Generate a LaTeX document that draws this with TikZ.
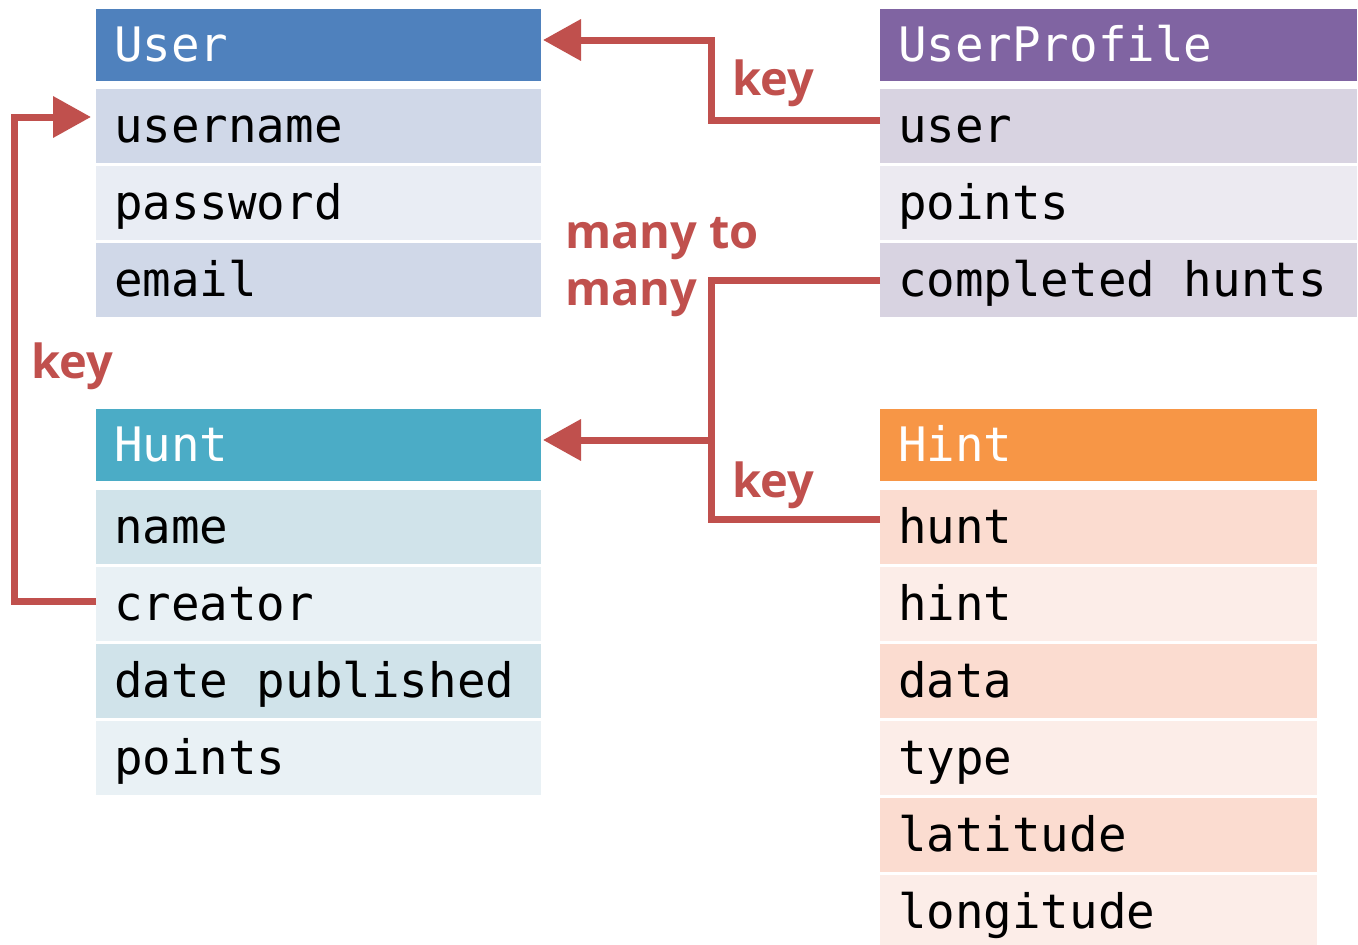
\documentclass[tikz,border=0pt]{standalone}
\usepackage{fontspec}
\setmainfont{Open Sans}
\setmonofont{DejaVu Sans Mono}
\usetikzlibrary{arrows.meta}
\definecolor{ublue}{HTML}{4F81BD}
\definecolor{udark}{HTML}{D0D8E8}
\definecolor{ulight}{HTML}{E9EDF4}
\definecolor{hcyan}{HTML}{4BACC6}
\definecolor{hdark}{HTML}{D0E3EA}
\definecolor{hlight}{HTML}{E9F1F5}
\definecolor{ppurple}{HTML}{8064A2}
\definecolor{pdark}{HTML}{D8D3E1}
\definecolor{plight}{HTML}{ECEAF1}
\definecolor{oorange}{HTML}{F79646}
\definecolor{odark}{HTML}{FBDCD0}
\definecolor{olight}{HTML}{FCEDE8}
\definecolor{keyred}{HTML}{C0504D}
\begin{document}
\begin{tikzpicture}[x=1pt,y=-1pt,
  cell/.style={anchor=north west, minimum height=74pt, inner xsep=18pt, inner ysep=0pt,
    text height=33pt, text depth=0pt, outer sep=0pt,
    font=\ttfamily\fontsize{47.5}{50}\selectfont},
  hdr/.style={cell, minimum height=72pt, text=white},
  cw/.style={execute at begin node={\hbox to #1\bgroup},
             execute at end node={\hfil\egroup}},
  wl/.style={cw=409pt},
  wp/.style={cw=441pt},
  wh/.style={cw=401pt},
  conn/.style={draw=keyred, line width=7pt, line join=miter},
  arr/.style={conn, -{Triangle[length=38pt,width=40pt]}},
  lab/.style={text=keyred, inner sep=0pt, anchor=base west,
    font=\bfseries\fontsize{47}{57}\selectfont, align=left}
]
\useasboundingbox (0,0) rectangle (1358,945);

% User table
\node[hdr, wl, fill=ublue] (uh) at (96,9) {User};
\node[cell, wl, fill=udark] (uname) at (96,89) {username};
\node[cell, wl, fill=ulight] (upass) at (96,166) {password};
\node[cell, wl, fill=udark] (umail) at (96,243) {email};

% Hunt table
\node[hdr, wl, fill=hcyan] (hh) at (96,409) {Hunt};
\node[cell, wl, fill=hdark] (hname) at (96,490) {name};
\node[cell, wl, fill=hlight] (hcreator) at (96,567) {creator};
\node[cell, wl, fill=hdark] (hdate) at (96,644) {date published};
\node[cell, wl, fill=hlight] (hpoints) at (96,721) {points};

% UserProfile table
\node[hdr, wp, fill=ppurple] (ph) at (880,9) {UserProfile};
\node[cell, wp, fill=pdark] (puser) at (880,89) {user};
\node[cell, wp, fill=plight] (ppoints) at (880,166) {points};
\node[cell, wp, fill=pdark] (pdone) at (880,243) {completed hunts};

% Hint table
\node[hdr, wh, fill=oorange] (nh) at (880,409) {Hint};
\node[cell, wh, fill=odark] (nhunt) at (880,490) {hunt};
\node[cell, wh, fill=olight] (nhint) at (880,567) {hint};
\node[cell, wh, fill=odark] (ndata) at (880,644) {data};
\node[cell, wh, fill=olight] (ntype) at (880,721) {type};
\node[cell, wh, fill=odark] (nlat) at (880,798) {latitude};
\node[cell, wh, fill=olight] (nlon) at (880,875) {longitude};

% connectors
\coordinate (j1) at (711,40);
\coordinate (j2) at (711,440);
\coordinate (j3) at (14,117);

\draw[arr] ([yshift=6pt]puser.west) -| (j1) -- ([xshift=2pt,yshift=5pt]uh.east);
\draw[arr] ([yshift=3pt]hcreator.west) -| (j3) -- ([xshift=-5pt,yshift=9pt]uname.west);
\draw[arr] (pdone.west) -| (j2) -- ([xshift=2pt,yshift=5pt]hh.east);
\draw[conn] ([yshift=8pt]nhunt.west) -| (j2);

% labels
\node[lab] (k1) at (732,95) {key};
\node[lab] (k2) at (31,378) {key};
\node[lab] (k3) at (732,497) {key};
\node[lab] (m1) at (565,305) {many to\\many};
\end{tikzpicture}
\end{document}
